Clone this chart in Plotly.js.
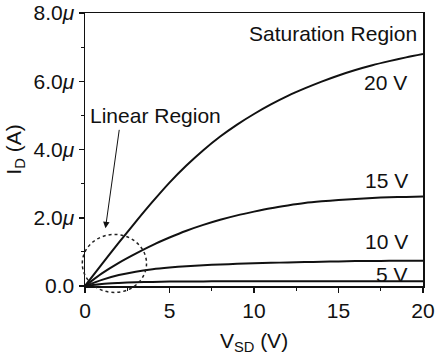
<!DOCTYPE html>
<html>
<head>
<meta charset="utf-8">
<script src="https://cdn.plot.ly/plotly-3.0.1.min.js"></script>
<style>
  html, body { margin: 0; padding: 0; background: #fff; }
  #chart { width: 438px; height: 358px; }
</style>
</head>
<body>
<div id="chart"></div>
<script>
// Source-drain voltage (V)
const vsd = [0, 1, 2, 3, 4, 5, 6, 7, 8, 9, 10, 11, 12, 13, 14, 15, 16, 17, 18, 19, 20];

// Drain current (µA) for each gate voltage
const id20V = [0, 0.64, 1.27, 1.88, 2.47, 3.03, 3.53, 3.98, 4.38, 4.73, 5.04, 5.32, 5.57, 5.79, 5.99, 6.17, 6.33, 6.47, 6.59, 6.70, 6.80];
const id15V = [0, 0.37, 0.68, 0.95, 1.20, 1.42, 1.62, 1.79, 1.94, 2.07, 2.18, 2.28, 2.36, 2.43, 2.48, 2.52, 2.55, 2.58, 2.60, 2.61, 2.62];
const id10V = [0, 0.18, 0.32, 0.42, 0.49, 0.54, 0.58, 0.61, 0.63, 0.65, 0.67, 0.68, 0.69, 0.70, 0.71, 0.72, 0.73, 0.73, 0.74, 0.74, 0.74];
const id5V  = [0, 0.06, 0.09, 0.11, 0.12, 0.13, 0.13, 0.135, 0.14, 0.14, 0.14, 0.14, 0.14, 0.14, 0.14, 0.14, 0.14, 0.14, 0.14, 0.14, 0.14];

// Axis ticks
const xTicks = [0, 5, 10, 15, 20];
const xMinorTicks = [2.5, 7.5, 12.5, 17.5];
const yTicks = [0, 2, 4, 6, 8];
const yTickText = ['0.0', '2.0<i>μ</i>', '4.0<i>μ</i>', '6.0<i>μ</i>', '8.0<i>μ</i>'];
const yMinorTicks = [1, 3, 5, 7];

// Curve labels: [text, x, y]
const curveLabels = [
  ['20 V', 17.76, 5.95],
  ['15 V', 17.82, 3.08],
  ['10 V', 17.82, 1.31],
  ['5 V', 18.16, 0.34]
];

const xRange = [0, 20];
const yRange = [0, 8];

const FONT = 'Liberation Sans, Arial, Helvetica, sans-serif';

const series = [id20V, id15V, id10V, id5V];
const traces = series.map(ys => ({
  x: vsd,
  y: ys,
  type: 'scatter',
  mode: 'lines',
  line: { color: '#111', width: 2, shape: 'spline', smoothing: 0.8 },
  hoverinfo: 'skip',
  showlegend: false
}));

// Convert data units to axis-domain fractions (lets the dotted ellipse
// spill past the axes without being clipped)
const dx = v => (v - xRange[0]) / (xRange[1] - xRange[0]);
const dy = v => (v - yRange[0]) / (yRange[1] - yRange[0]);

const annotations = curveLabels.map(([t, x, y]) => ({
  text: t, x: x, y: y, xref: 'x', yref: 'y',
  showarrow: false, xanchor: 'center', yanchor: 'middle',
  font: { family: FONT, size: 21, color: '#111' }
}));

annotations.push({
  text: 'Saturation Region', x: 14.68, y: 7.40, xref: 'x', yref: 'y',
  showarrow: false, xanchor: 'center', yanchor: 'middle',
  font: { family: FONT, size: 21, color: '#111' }
});
annotations.push({
  text: 'Linear Region', x: 4.19, y: 5.0, xref: 'x', yref: 'y',
  showarrow: false, xanchor: 'center', yanchor: 'middle',
  font: { family: FONT, size: 21, color: '#111' }
});
// Arrow pointing into the linear region
annotations.push({
  text: '', x: 1.21, y: 1.69, xref: 'x', yref: 'y',
  showarrow: true, ax: 14, ay: -100,
  arrowhead: 2, arrowsize: 1.3, arrowwidth: 1, arrowcolor: '#111'
});

const layout = {
  width: 438,
  height: 358,
  margin: { l: 85, r: 15, t: 13, b: 72 },
  paper_bgcolor: '#fff',
  plot_bgcolor: '#fff',
  font: { family: FONT, color: '#111' },
  xaxis: {
    range: xRange,
    tickvals: xTicks,
    ticks: 'outside', ticklen: 5, tickwidth: 1.5, tickcolor: '#111',
    minor: { tickvals: xMinorTicks, ticks: 'outside', ticklen: 3, tickwidth: 1.2, tickcolor: '#111' },
    showline: true, linewidth: 1.5, linecolor: '#111', mirror: true,
    showgrid: false, zeroline: false,
    tickfont: { family: FONT, size: 21, color: '#111' },
    title: { text: 'V<sub>SD</sub> (V)', font: { family: FONT, size: 21, color: '#111' }, standoff: 12 }
  },
  yaxis: {
    range: yRange,
    tickvals: yTicks,
    ticktext: yTickText,
    ticks: 'outside', ticklen: 5, tickwidth: 1.5, tickcolor: '#111',
    minor: { tickvals: yMinorTicks, ticks: 'outside', ticklen: 3, tickwidth: 1.2, tickcolor: '#111' },
    showline: true, linewidth: 1.5, linecolor: '#111', mirror: true,
    showgrid: false, zeroline: false,
    tickfont: { family: FONT, size: 21, color: '#111' },
    title: { text: 'I<sub>D</sub> (A)', font: { family: FONT, size: 21, color: '#111' }, standoff: 6 }
  },
  shapes: [{
    type: 'circle',
    xref: 'x domain', yref: 'y domain',
    x0: dx(-0.16), x1: dx(3.64),
    y0: dy(-0.19), y1: dy(1.51),
    line: { color: '#222', width: 1.5, dash: 'dot' }
  }],
  annotations: annotations
};

Plotly.newPlot('chart', traces, layout, { displayModeBar: false, staticPlot: true });
</script>
</body>
</html>
